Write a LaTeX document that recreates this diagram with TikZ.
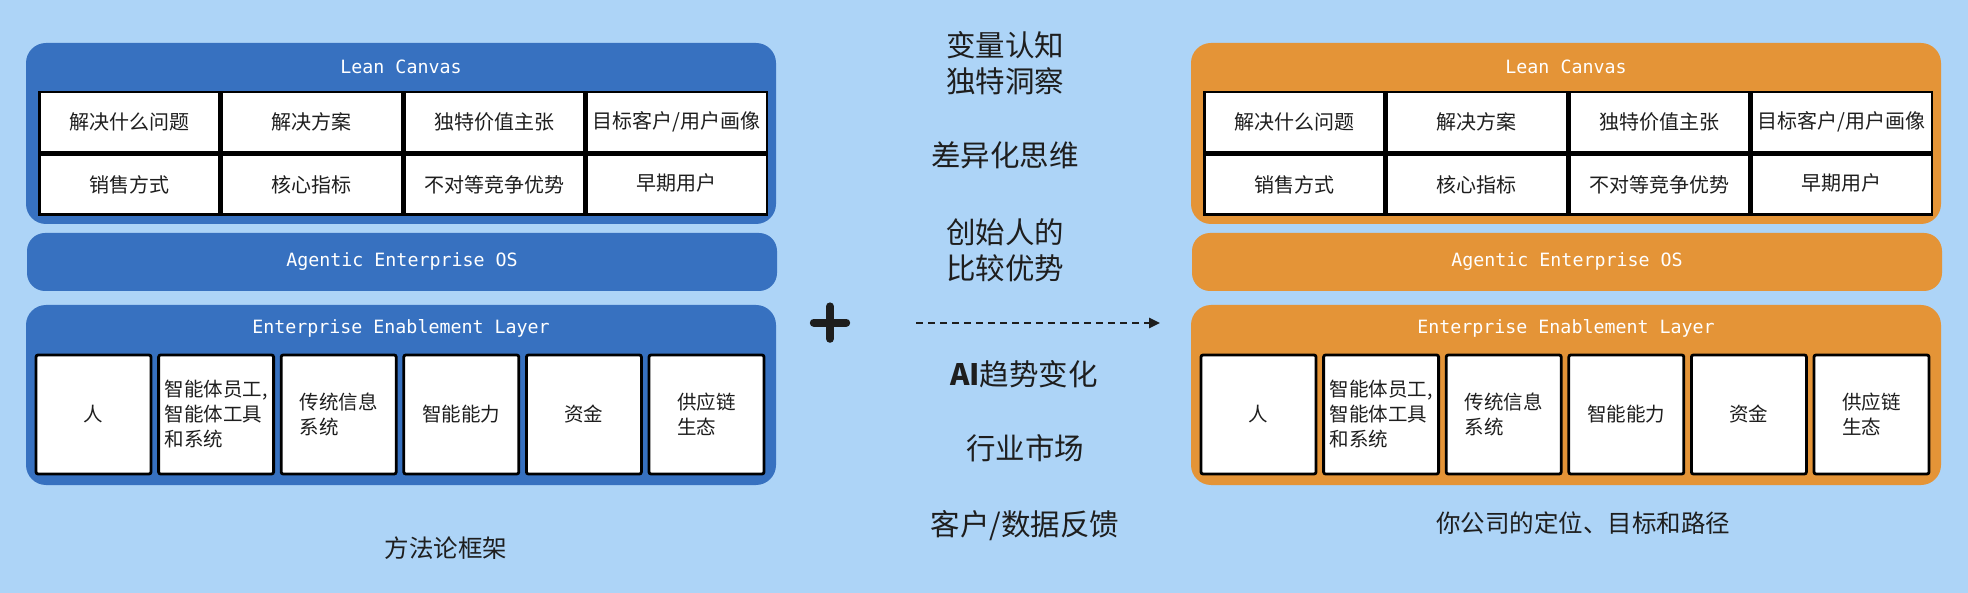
\documentclass[tikz,border=0pt]{standalone}
\usepackage{fontspec}
\setmainfont{Noto Sans CJK SC}
\newfontfamily\monofnt{DejaVu Sans Mono}
\usetikzlibrary{arrows.meta,positioning}
\definecolor{bgsky}{HTML}{ADD4F7}
\definecolor{panblue}{HTML}{3771C0}
\definecolor{panorange}{HTML}{E49437}
\definecolor{inkdark}{HTML}{1E1E1E}

\begin{document}
\begin{tikzpicture}[
  x=1pt, y=-1pt,
  panel/.style={rounded corners=20pt, minimum width=750pt, inner sep=0pt},
  ptitle/.style={text=white, font=\monofnt\fontsize{18.3}{20}\selectfont},
  cell/.style={draw=black, line width=2.5pt, fill=white, minimum width=180pt,
    minimum height=60pt, inner sep=0pt, text=inkdark, font=\fontsize{20}{24}\selectfont},
  unit/.style={draw=black, line width=2.8pt, fill=white, rounded corners=2pt,
    minimum width=115pt, minimum height=119pt, inner sep=0pt, align=left,
    text=inkdark, font=\fontsize{19.5}{25}\selectfont},
  midtxt/.style={align=center, text=inkdark, font=\fontsize{29.5}{36}\selectfont},
  captxt/.style={text=inkdark, font=\fontsize{24.5}{28}\selectfont},
  flow/.style={-{Triangle[length=11pt,width=10pt]}, line width=2.5pt,
    dash pattern=on 7pt off 5pt, draw=inkdark},
]
  \fill[bgsky] (0,0) rectangle (1968,593);
  \useasboundingbox (0,0) rectangle (1968,593);

  \foreach \p/\dx/\col in {L/0/panblue, R/1165/panorange}{
    \node[panel, fill=\col, minimum height=181pt] (\p-lean) at (\dx+401,133.5) {};
    \node[ptitle] (\p-leant) at (\dx+401,67) {Lean Canvas};
    \foreach \t [count=\i from 0] in {解决什么问题, 解决方案, 独特价值主张, {目标客户/用户画像}}
      \node[cell] (\p-c\i) at (\dx+129.25+182.5*\i,122) {\t};
    \foreach \t [count=\i from 0] in {销售方式, 核心指标, 不对等竞争优势, \raisebox{5pt}{早期用户}}
      \node[cell] (\p-d\i) at (\dx+129.25+182.5*\i,184.5) {\t};

    \node[panel, fill=\col, minimum height=58pt, rounded corners=18pt, ptitle]
      (\p-os) at (\dx+402,262) {Agentic Enterprise OS};

    \node[panel, fill=\col, minimum height=180pt] (\p-eel) at (\dx+401,395) {};
    \node[ptitle] (\p-eelt) at (\dx+401,328) {Enterprise Enablement Layer};
    \foreach \t [count=\i from 0] in {人, {智能体员工,\\智能体工具\\和系统}, 传统信息\\系统,
        智能能力, 资金, 供应链\\生态}
      \node[unit] (\p-u\i) at (\dx+93.5+122.6*\i,414.5) {\t};
  }

  \node[captxt] (capL) at (446,548) {方法论框架};
  \node[captxt] (capR) at (1583,523) {你公司的定位、目标和路径};

  \node[midtxt] (mid1) at (1005,63) {变量认知\\独特洞察};
  \node[midtxt] (mid2) at (1005,155) {差异化思维};
  \node[midtxt] (mid3) at (1005,250) {创始人的\\比较优势};
  \node[midtxt] (mid4) at (1024,374) {{\bfseries AI}趋势变化};
  \node[midtxt] (mid5) at (1025,448) {行业市场};
  \node[midtxt] (mid6) at (1025,526) {客户/数据反馈};

  \node[minimum size=32pt, inner sep=0pt] (plus) at (830,322.6) {};
  \draw[line width=8pt, line cap=round, inkdark]
    (plus.north) -- (plus.south) (plus.west) -- (plus.east);

  \coordinate (flowS) at (916,323);
  \coordinate (flowE) at (1160,323);
  \draw[flow] (flowS) -- (flowE);
\end{tikzpicture}
\end{document}
